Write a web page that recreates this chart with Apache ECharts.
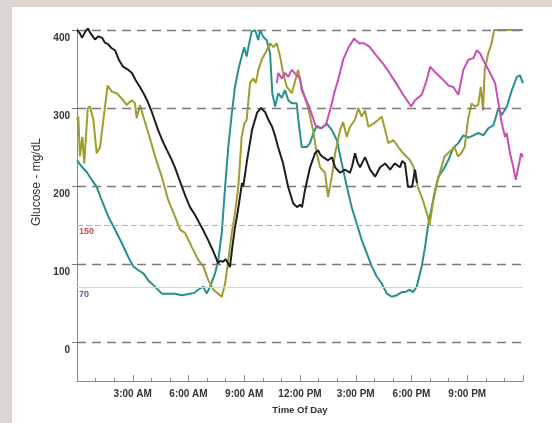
<!DOCTYPE html>
<html>
<head>
<meta charset="utf-8">
<script src="https://cdn.jsdelivr.net/npm/echarts@6/dist/echarts.min.js"></script>
<style>
  html, body { margin: 0; padding: 0; background: #dcd5d2; }
  #chart { width: 552px; height: 423px; }
</style>
</head>
<body>
<div id="chart"></div>
<script>
// ---- data (hours since midnight, mg/dL) ----
const xTickHours = [3, 6, 9, 12, 15, 18, 21];
const xTickLabels = ['3:00 AM', '6:00 AM', '9:00 AM', '12:00 PM', '3:00 PM', '6:00 PM', '9:00 PM'];
const yTickValues = [0, 100, 200, 300, 400];
const thresholdHigh = 150;
const thresholdLow = 70;

const blackSeries = [[0.0,400],[0.15,396],[0.27,390],[0.45,398],[0.59,402],[0.75,395],[0.97,388],[1.15,392],[1.35,390],[1.5,384],[1.67,382],[1.85,377],[2.05,374],[2.25,362],[2.48,353],[2.7,350],[2.96,345],[3.15,336],[3.39,327],[3.6,318],[3.77,310],[4.04,294],[4.36,272],[4.6,258],[4.84,246],[5.05,236],[5.27,224],[5.45,212],[5.65,199],[5.85,186],[6.08,173],[6.3,165],[6.51,156],[6.8,143],[7.05,131],[7.3,118],[7.53,105],[7.59,101],[7.7,104],[7.86,103],[8.0,106],[8.13,101],[8.23,96],[8.35,120],[8.5,147],[8.6,160],[8.7,175],[8.88,204],[8.95,200],[9.15,233],[9.42,272],[9.69,294],[9.9,300],[10.12,295],[10.3,285],[10.5,276],[10.65,265],[10.82,250],[10.9,252],[11.09,229],[11.36,199],[11.63,178],[11.84,173],[12.0,176],[12.11,173],[12.27,195],[12.54,224],[12.81,242],[12.97,246],[13.1,240],[13.24,237],[13.51,233],[13.72,237],[13.89,224],[14.16,217],[14.42,221],[14.69,217],[14.8,225],[14.96,242],[15.1,230],[15.23,224],[15.5,237],[15.77,221],[16.04,212],[16.31,224],[16.58,229],[16.85,221],[17.0,226],[17.11,229],[17.38,224],[17.5,232],[17.65,229],[17.81,199],[18.03,199],[18.19,221],[18.3,204]];

const oliveSeries = [[0.0,285],[0.07,289],[0.16,238],[0.29,263],[0.39,229],[0.58,300],[0.7,302],[0.79,300],[0.88,285],[1.06,242],[1.24,250],[1.42,285],[1.65,329],[1.87,321],[2.14,319],[2.41,312],[2.67,304],[2.94,310],[3.12,306],[3.21,287],[3.39,304],[3.57,289],[3.84,268],[4.2,238],[4.56,212],[4.91,182],[5.27,161],[5.54,144],[5.81,140],[6.08,127],[6.17,122],[6.53,105],[6.8,97],[7.07,79],[7.34,67],[7.6,62],[7.79,58],[7.97,75],[8.14,105],[8.33,140],[8.5,165],[8.68,199],[8.86,263],[9.0,280],[9.13,285],[9.31,332],[9.49,338],[9.62,332],[9.76,349],[9.94,362],[10.12,370],[10.21,374],[10.39,383],[10.57,378],[10.75,383],[10.93,366],[11.1,344],[11.29,327],[11.56,319],[11.73,334],[11.9,349],[12.09,327],[12.43,301],[12.7,272],[12.9,242],[13.08,224],[13.35,217],[13.51,186],[13.71,212],[13.89,242],[14.16,272],[14.32,282],[14.52,263],[14.69,276],[14.96,285],[15.14,300],[15.32,289],[15.5,297],[15.68,276],[15.95,280],[16.22,285],[16.4,289],[16.58,272],[16.75,255],[17.02,259],[17.29,250],[17.56,242],[17.92,233],[18.1,225],[18.34,199],[18.61,182],[18.88,161],[18.97,150],[19.15,178],[19.33,199],[19.51,216],[19.78,238],[20.05,244],[20.32,250],[20.5,238],[20.68,242],[20.86,250],[21.04,285],[21.23,306],[21.41,302],[21.59,304],[21.73,327],[21.85,297],[21.94,349],[22.13,370],[22.31,383],[22.45,400],[23.0,400],[23.5,400],[24.0,400]];

const tealSeries = [[0.0,233],[0.25,225],[0.52,218],[0.79,208],[1.06,199],[1.33,182],[1.68,161],[2.05,144],[2.41,127],[2.76,109],[3.03,97],[3.3,92],[3.57,88],[3.84,79],[4.2,71],[4.56,62],[4.91,62],[5.27,62],[5.64,60],[6.08,62],[6.3,63],[6.53,67],[6.8,71],[6.98,62],[7.16,71],[7.43,88],[7.6,105],[7.79,140],[7.97,199],[8.14,250],[8.33,293],[8.5,327],[8.68,349],[8.86,366],[9.0,378],[9.13,366],[9.22,378],[9.4,398],[9.58,400],[9.76,387],[9.85,400],[10.03,391],[10.21,387],[10.39,370],[10.51,319],[10.66,302],[10.83,319],[11.02,313],[11.19,323],[11.37,310],[11.56,306],[11.82,306],[11.91,285],[12.09,250],[12.36,250],[12.54,255],[12.72,268],[12.9,277],[13.17,274],[13.44,280],[13.71,272],[13.98,259],[14.25,229],[14.52,199],[14.78,173],[15.05,152],[15.32,131],[15.59,114],[15.86,97],[16.13,84],[16.4,75],[16.67,62],[16.94,58],[17.21,60],[17.48,64],[17.65,64],[17.92,67],[18.08,64],[18.28,71],[18.55,97],[18.73,122],[18.91,152],[19.09,173],[19.27,195],[19.45,212],[19.71,221],[19.98,233],[20.25,249],[20.52,255],[20.79,265],[21.06,262],[21.33,265],[21.6,268],[21.87,265],[22.13,274],[22.41,278],[22.68,300],[22.86,291],[23.13,302],[23.4,323],[23.67,340],[23.84,342],[24.0,332]];

const magentaSeries = [[10.75,332],[10.83,345],[11.02,338],[11.19,345],[11.37,340],[11.56,349],[11.82,342],[12.0,338],[12.09,323],[12.33,310],[12.49,302],[12.7,287],[12.86,276],[13.13,274],[13.4,279],[13.67,302],[13.85,320],[14.05,336],[14.32,362],[14.64,379],[14.91,389],[15.18,383],[15.45,383],[15.72,379],[16.09,368],[16.47,357],[16.79,346],[17.17,332],[17.55,317],[17.81,308],[17.98,302],[18.19,310],[18.55,317],[18.82,336],[19.0,353],[19.27,346],[19.63,338],[19.98,329],[20.25,327],[20.52,317],[20.79,349],[21.06,362],[21.33,364],[21.51,374],[21.69,370],[21.96,357],[22.23,345],[22.5,332],[22.68,306],[22.86,280],[23.04,263],[23.12,268],[23.3,242],[23.48,224],[23.61,208],[23.75,224],[23.9,242],[24.0,237]];

// ---- chart ----
const FONT = "'Liberation Sans', Arial, sans-serif";
const chart = echarts.init(document.getElementById('chart'), null, { renderer: 'canvas' });

function lineSeries(data, color, z) {
  return {
    type: 'line', data: data, showSymbol: false, symbol: 'none',
    lineStyle: { color: color, width: 2 }, z: z, animation: false, silent: true
  };
}

const gridDashed = { color: '#7a7a7a', width: 1.4, type: [9, 6] };

const option = {
  backgroundColor: '#dcd5d2',
  animation: false,
  graphic: [
    { type: 'rect', z: -10, shape: { x: 12, y: 7, width: 540, height: 416 }, style: { fill: '#ffffff' }, silent: true },
    { type: 'text', z: 10, x: 37, y: 182, rotation: Math.PI / 2,
      style: { text: 'Glucose - mg/dL', font: '12px ' + FONT, fill: '#333', textAlign: 'center', textVerticalAlign: 'middle' } }
  ],
  grid: { left: 77, right: 29, top: 28.5, bottom: 42, containLabel: false },
  xAxis: {
    type: 'value', min: 0, max: 24, interval: 3,
    name: 'Time Of Day', nameLocation: 'middle', nameGap: 24,
    nameTextStyle: { fontFamily: FONT, fontSize: 9.5, fontWeight: 'bold', color: '#333' },
    axisLine: { show: true, onZero: false, lineStyle: { color: '#8c8c8c', width: 1 } },
    axisTick: { show: true, inside: true, length: 6, lineStyle: { color: '#8c8c8c' } },
    minorTick: { show: true, splitNumber: 3, length: 3, lineStyle: { color: '#8c8c8c' } },
    splitLine: { show: false },
    axisLabel: {
      margin: 8, fontFamily: FONT, fontSize: 10, fontWeight: 'bold', color: '#333',
      formatter: function (v) { const i = xTickHours.indexOf(v); return i >= 0 ? xTickLabels[i] : ''; }
    }
  },
  yAxis: {
    type: 'value', min: -50, max: 402,
    axisLine: { show: true, onZero: false, lineStyle: { color: '#8c8c8c', width: 1 } },
    axisTick: { show: true, inside: false, length: 5, customValues: yTickValues, lineStyle: { color: '#7a7a7a' } },
    splitLine: { show: false },
    axisLabel: {
      customValues: yTickValues, margin: 7, fontFamily: FONT, fontSize: 10, fontWeight: 'bold', color: '#333',
      verticalAlign: 'top', padding: [3, 0, 0, 0]
    }
  },
  series: [
    {
      type: 'line', data: [], silent: true, z: 1,
      markLine: {
        silent: true, symbol: ['none', 'none'], animation: false,
        data: [
          ...yTickValues.map(v => ({ yAxis: v, lineStyle: gridDashed, label: { show: false } })),
          { yAxis: thresholdHigh, lineStyle: { color: '#d9a0a0', width: 1.2, type: [6, 3] },
            label: { show: true, position: 'insideStartBottom', formatter: String(thresholdHigh), distance: [2, 2],
                     fontFamily: FONT, fontSize: 9, fontWeight: 'bold', color: '#c0504d' } },
          { yAxis: thresholdLow, lineStyle: { color: '#d4d4e2', width: 1.2, type: 'solid' },
            label: { show: true, position: 'insideStartBottom', formatter: String(thresholdLow), distance: [2, 3],
                     fontFamily: FONT, fontSize: 9, fontWeight: 'bold', color: '#5a5aa8' } }
        ]
      }
    },
    lineSeries(tealSeries, '#27908f', 3),
    lineSeries(oliveSeries, '#a09c2e', 4),
    lineSeries(blackSeries, '#1e1e1e', 5),
    lineSeries(magentaSeries, '#c94db8', 6)
  ]
};
chart.setOption(option);
</script>
</body>
</html>
